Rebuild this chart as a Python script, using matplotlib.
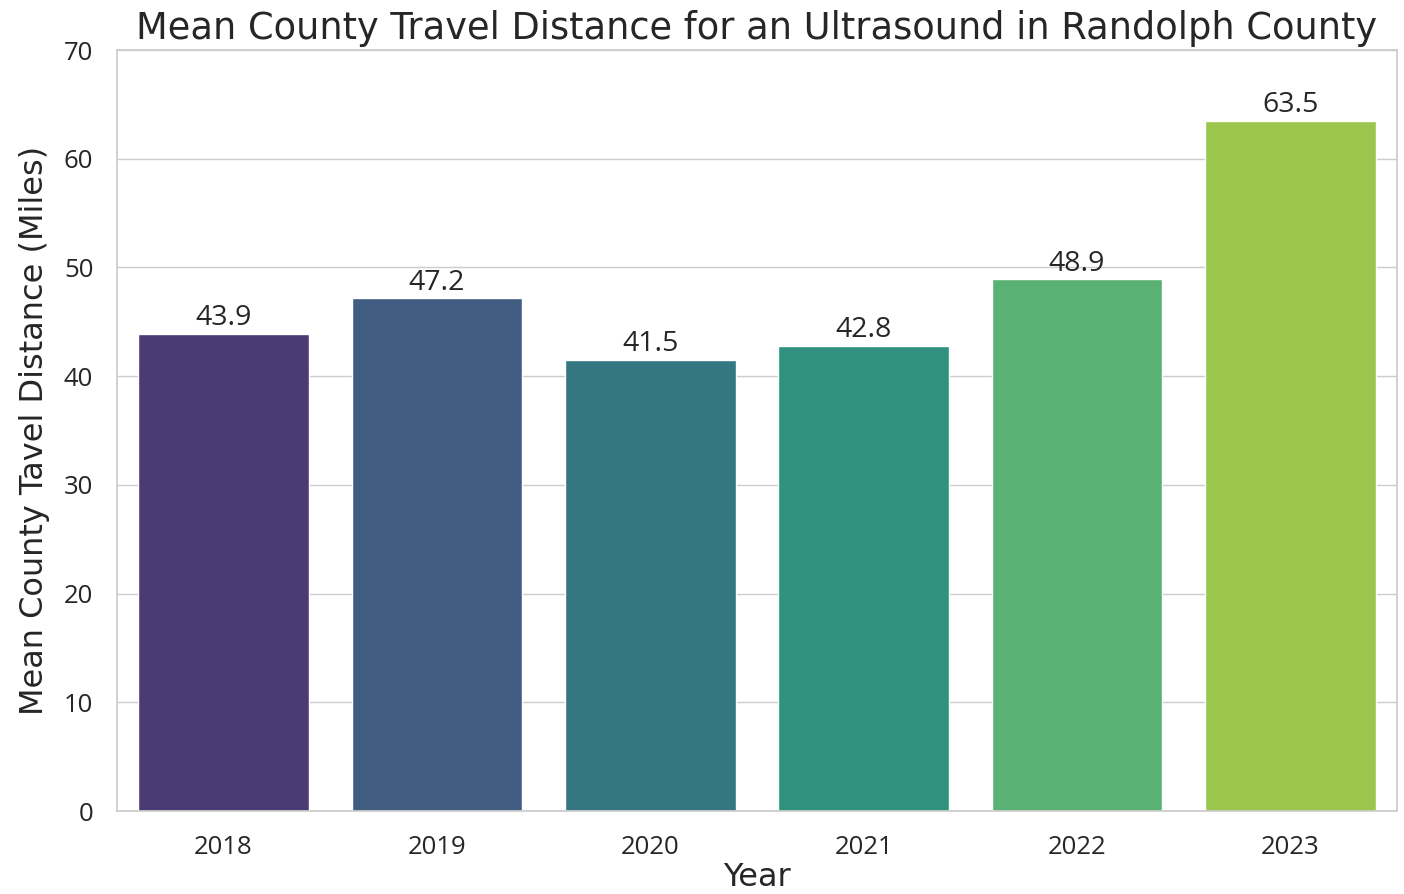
import numpy as np
import matplotlib as mpl
mpl.use('Agg')
import matplotlib.pyplot as plt
import seaborn as sns
import pandas as pd

years = ['2018', '2019', '2020', '2021', '2022', '2023']
mean_distance = [43.9, 47.2, 41.5, 42.8, 48.9, 63.5]

sns.set_theme(style='whitegrid')
plt.rcParams['font.family'] = ['Open Sans', 'DejaVu Sans']

df = pd.DataFrame({'Year': years, 'Distance': mean_distance})

fig = plt.figure(figsize=(14.04, 8.94), dpi=100)
ax = fig.add_axes([0.0833, 0.0928, 0.9117, 0.8512])
sns.barplot(data=df, x='Year', y='Distance', hue='Year', palette='viridis',
            legend=False, ax=ax)

# value on top of each bar
for cont in ax.containers:
    ax.bar_label(cont, fmt='%.1f', fontsize=20.5, padding=1, color='#262626')

ax.set_ylim(0, 70)
ax.set_title('Mean County Travel Distance for an Ultrasound in Randolph County',
             fontsize=26.5, fontfamily='DejaVu Sans', pad=8)
ax.set_xlabel('Year', fontsize=23, fontfamily='DejaVu Sans', labelpad=2)
ax.set_ylabel('Mean County Tavel Distance (Miles)', fontsize=23,
              fontfamily='DejaVu Sans', labelpad=10)
ax.tick_params(axis='x', labelsize=18.5, pad=11)
ax.tick_params(axis='y', labelsize=18.5, pad=11)

plt.savefig('out.png', dpi=100)
